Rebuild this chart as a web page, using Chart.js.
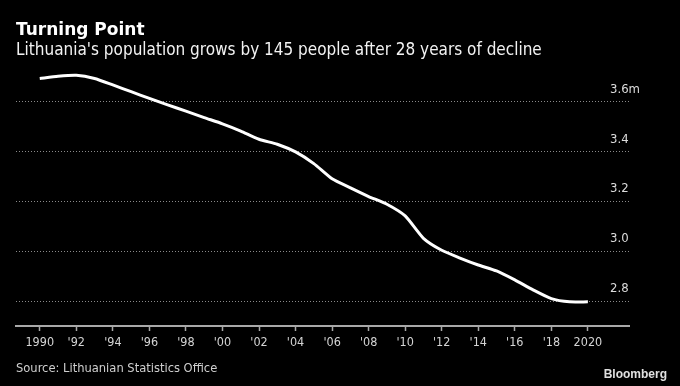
<!DOCTYPE html>
<html><head><meta charset="utf-8">
<script src="https://cdn.jsdelivr.net/npm/chart.js@4.4.1/dist/chart.umd.min.js"></script>
<style>
html,body{margin:0;padding:0;background:#000;width:680px;height:386px;overflow:hidden}
#wrap{position:relative;width:680px;height:386px}
canvas{position:absolute;left:0;top:0}
.t{position:absolute;white-space:nowrap;line-height:1;font-family:"DejaVu Sans Condensed","DejaVu Sans",sans-serif}
#title{left:16px;top:20.5px;font-size:17px;font-weight:bold;color:#fff;font-family:"DejaVu Sans",sans-serif}
#sub{left:16px;top:40.6px;font-size:17px;color:#f2f2f2}
#src{left:16px;top:362.3px;font-size:12.8px;color:#cfcfcf}
#bb{right:13px;top:367.5px;font-family:"Liberation Sans",Arial,sans-serif;font-weight:bold;font-size:12px;color:#e0e0e0}
</style>
</head><body>
<div id="wrap">
<canvas id="c" width="680" height="386"></canvas>
<div class="t" id="title">Turning Point</div>
<div class="t" id="sub">Lithuania's population grows by 145 people after 28 years of decline</div>
<div class="t" id="src">Source: Lithuanian Statistics Office</div>
<div class="t" id="bb">Bloomberg</div>
</div>
<script>
const years = [1990,1991,1992,1993,1994,1995,1996,1997,1998,1999,2000,2001,2002,2003,2004,2005,2006,2007,2008,2009,2010,2011,2012,2013,2014,2015,2016,2017,2018,2019,2020];
const population = [3.694,3.703,3.707,3.694,3.668,3.641,3.614,3.588,3.563,3.537,3.512,3.483,3.450,3.430,3.399,3.352,3.291,3.255,3.220,3.189,3.142,3.052,3.004,2.973,2.945,2.921,2.885,2.845,2.810,2.797,2.797];
const xTickValues = [1990,1992,1994,1996,1998,2000,2002,2004,2006,2008,2010,2012,2014,2016,2018,2020];
const xTickLabels = ["1990","'92","'94","'96","'98","'00","'02","'04","'06","'08","'10","'12","'14","'16","'18","2020"];
const yTickValues = [2.8,3.0,3.2,3.4,3.6];
const yTickLabels = ["2.8","3.0","3.2","3.4","3.6m"];

Chart.defaults.font.family = '"DejaVu Sans Condensed","DejaVu Sans",sans-serif';

new Chart(document.getElementById('c'), {
  type: 'line',
  data: {
    datasets: [{
      data: years.map((y, i) => ({x: y, y: population[i]})),
      borderColor: '#ffffff',
      borderWidth: 3,
      pointRadius: 0,
      tension: 0.2,
      fill: false
    }]
  },
  options: {
    responsive: false,
    animation: false,
    layout: {padding: {left: 16, right: 29, top: 72, bottom: 32}},
    plugins: {legend: {display: false}, tooltip: {enabled: false}},
    scales: {
      x: {
        type: 'linear',
        min: 1988.7,
        max: 2022.25,
        afterBuildTicks: axis => { axis.ticks = xTickValues.map(v => ({value: v})); },
        ticks: {
          autoSkip: false,
          maxRotation: 0,
          padding: 4,
          color: '#d4d4d4',
          font: {size: 12.5},
          callback: (v) => { const i = xTickValues.indexOf(v); return i >= 0 ? xTickLabels[i] : ''; }
        },
        grid: {display: true, drawOnChartArea: false, drawTicks: true, tickLength: 5, tickColor: '#a8a8a8', tickWidth: 1.5},
        border: {display: true, color: '#a8a8a8', width: 2}
      },
      y: {
        type: 'linear',
        position: 'right',
        min: 2.7,
        max: 3.72,
        afterBuildTicks: axis => { axis.ticks = yTickValues.map(v => ({value: v})); },
        ticks: {
          mirror: true,
          crossAlign: 'far',
          padding: 11,
          labelOffset: -12.5,
          color: '#dcdcdc',
          font: {size: 13},
          callback: (v) => { const i = yTickValues.findIndex(t => Math.abs(t - v) < 1e-9); return i >= 0 ? yTickLabels[i] : ''; }
        },
        grid: {display: true, drawTicks: false, color: '#8a8a8a', lineWidth: 1},
        border: {display: false, dash: [1, 2]}
      }
    }
  }
});
</script>
</body></html>
